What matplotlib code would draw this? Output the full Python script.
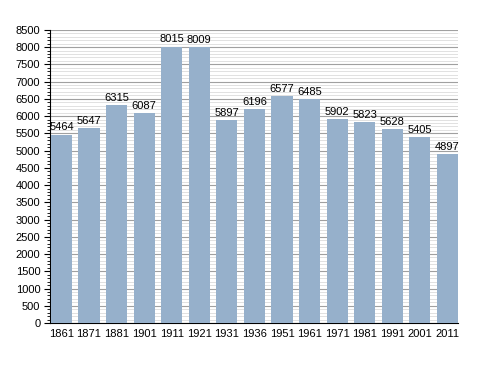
import numpy as np
import matplotlib
matplotlib.use("Agg")
from matplotlib import pyplot as plt
from matplotlib.ticker import MultipleLocator

plt.rcParams['font.family'] = ['Liberation Sans', 'DejaVu Sans']

# Census years and population
years = ["1861", "1871", "1881", "1901", "1911", "1921", "1931", "1936",
         "1951", "1961", "1971", "1981", "1991", "2001", "2011"]
population = [5464, 5647, 6315, 6087, 8015, 8009, 5897, 6196,
              6577, 6485, 5902, 5823, 5628, 5405, 4897]

fig = plt.figure(figsize=(4.88, 3.73), dpi=100)
ax = fig.add_axes([0.1025, 0.134, 0.836, 0.786])

x = np.arange(len(years))
width = 0.77
ax.bar(x, population, width=width, color="#96b0cb", zorder=3)

for xi, v in zip(x, population):
    ax.text(xi, v + 60, str(v), ha="center", va="bottom", fontsize=8, zorder=4)

ax.set_xlim(-width / 2 - 0.03, len(years) - 1 + width / 2)
ax.set_ylim(0, 8500)
ax.yaxis.set_major_locator(MultipleLocator(500))
ax.yaxis.set_minor_locator(MultipleLocator(100))
ax.grid(which="major", axis="y", color="#a0a0a0", linewidth=0.8, zorder=1)
ax.grid(which="minor", axis="y", color="#dcdcdc", linewidth=0.6, zorder=0)

ax.set_xticks(x)
ax.set_xticklabels(years)
ax.tick_params(axis="x", length=0, labelsize=8, pad=4)
ax.tick_params(axis="y", which="major", length=4, labelsize=8, direction="out", pad=3)
ax.tick_params(axis="y", which="minor", length=2, direction="out")

for s in ["top", "right"]:
    ax.spines[s].set_visible(False)

fig.savefig("out.png", dpi=100)
